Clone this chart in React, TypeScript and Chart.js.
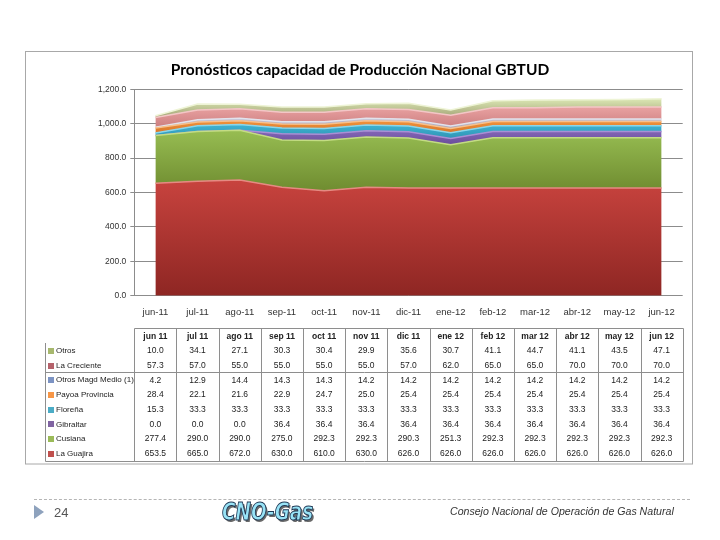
import React, { useEffect, useRef } from 'react';
import { Chart, registerables } from 'chart.js';

Chart.register(...registerables);

// ---------- data ----------
const TITLE = 'Pronósticos capacidad de Producción Nacional GBTUD';
const months = ['jun-11', 'jul-11', 'ago-11', 'sep-11', 'oct-11', 'nov-11', 'dic-11', 'ene-12', 'feb-12', 'mar-12', 'abr-12', 'may-12', 'jun-12'];
const tableMonths = ['jun 11', 'jul 11', 'ago 11', 'sep 11', 'oct 11', 'nov 11', 'dic 11', 'ene 12', 'feb 12', 'mar 12', 'abr 12', 'may 12', 'jun 12'];
const yTickValues = [0, 200, 400, 600, 800, 1000, 1200];

const seriesNames = ['La Guajira', 'Cusiana', 'Gibraltar', 'Floreña', 'Payoa Provincia', 'Otros Magd Medio (1)', 'La Creciente', 'Otros'];
const laGuajira = [653.5, 665.0, 672.0, 630.0, 610.0, 630.0, 626.0, 626.0, 626.0, 626.0, 626.0, 626.0, 626.0];
const cusiana = [277.4, 290.0, 290.0, 275.0, 292.3, 292.3, 290.3, 251.3, 292.3, 292.3, 292.3, 292.3, 292.3];
const gibraltar = [0.0, 0.0, 0.0, 36.4, 36.4, 36.4, 36.4, 36.4, 36.4, 36.4, 36.4, 36.4, 36.4];
const florena = [15.3, 33.3, 33.3, 33.3, 33.3, 33.3, 33.3, 33.3, 33.3, 33.3, 33.3, 33.3, 33.3];
const payoaProvincia = [28.4, 22.1, 21.6, 22.9, 24.7, 25.0, 25.4, 25.4, 25.4, 25.4, 25.4, 25.4, 25.4];
const otrosMagdMedio = [4.2, 12.9, 14.4, 14.3, 14.3, 14.2, 14.2, 14.2, 14.2, 14.2, 14.2, 14.2, 14.2];
const laCreciente = [57.3, 57.0, 55.0, 55.0, 55.0, 55.0, 57.0, 62.0, 65.0, 65.0, 70.0, 70.0, 70.0];
const otros = [10.0, 34.1, 27.1, 30.3, 30.4, 29.9, 35.6, 30.7, 41.1, 44.7, 41.1, 43.5, 47.1];
const seriesValues = [laGuajira, cusiana, gibraltar, florena, payoaProvincia, otrosMagdMedio, laCreciente, otros];

// ---------- styles ----------
const fillTop = ['#c8433e', '#97bd52', '#8467b8', '#3fb3d3', '#f0923c', '#c4c2d4', '#e9a2a2', '#dbe7b4'];
const fillBottom = ['#8e2623', '#6f8c30', '#6a4d9a', '#2e95b4', '#d8772a', '#a9a8bd', '#cc7f80', '#a4a577'];
const edgeColors = ['#e58a82', '#c3dc83', '#a98fd4', '#8bd6ea', '#f7c08c', '#e2e2ec', '#f3c6c6', '#eef4d6'];
const keyColors = ['#c0504d', '#9bbb59', '#8064a2', '#4bacc6', '#f79646', '#7c93c3', '#b5626b', '#a7b86e'];
const FONT = 'Liberation Sans';

const decorPlugin = {
  id: 'decor',
  beforeDraw(chart: any) {
    const ctx = chart.ctx;
    ctx.save();
    ctx.fillStyle = '#ffffff';
    ctx.fillRect(0, 0, chart.width, chart.height);
    ctx.strokeStyle = '#a8a8a8';
    ctx.lineWidth = 1;
    ctx.strokeRect(25.5, 51.5, 667, 412.5);
    ctx.restore();
  },
  afterDraw(chart: any) {
    const ctx = chart.ctx;
    const xs = chart.scales.x;
    ctx.save();
    // title
    ctx.font = 'bold 15.5px Lato';
    ctx.fillStyle = '#000';
    ctx.textAlign = 'center';
    ctx.textBaseline = 'middle';
    ctx.fillText(TITLE, 360, 70);

    // data table
    const n = months.length;
    const step = xs.getPixelForValue(1) - xs.getPixelForValue(0);
    const left = xs.getPixelForValue(0) - step / 2;
    const right = xs.getPixelForValue(n - 1) + step / 2;
    const top = 328.5;
    const headH = 14.5;
    const rowH = 14.7;
    const nRows = seriesNames.length;
    const bodyTop = top + headH;
    const bottom = bodyTop + rowH * nRows;
    const legLeft = 45.5;

    ctx.strokeStyle = '#8e8e8e';
    ctx.lineWidth = 1;
    ctx.beginPath();
    ctx.moveTo(Math.round(left) + 0.5, top);
    ctx.lineTo(Math.round(right) + 0.5, top);
    ctx.moveTo(legLeft, bodyTop);
    ctx.lineTo(legLeft, Math.round(bottom) + 0.5);
    ctx.lineTo(Math.round(right) + 0.5, Math.round(bottom) + 0.5);
    for (let i = 0; i <= n; i++) {
      const xx = Math.round(left + i * step) + 0.5;
      ctx.moveTo(xx, top);
      ctx.lineTo(xx, Math.round(bottom) + 0.5);
    }
    const sepY = Math.round(bodyTop + rowH * 2) + 0.5;
    ctx.moveTo(legLeft, sepY);
    ctx.lineTo(Math.round(right) + 0.5, sepY);
    ctx.stroke();

    // headers
    ctx.fillStyle = '#222';
    ctx.font = `bold 8.5px ${FONT}`;
    ctx.textAlign = 'center';
    for (let i = 0; i < n; i++) {
      ctx.fillText(tableMonths[i], xs.getPixelForValue(i), top + headH / 2 + 0.5);
    }
    // rows (top row = last series)
    for (let r = 0; r < nRows; r++) {
      const si = nRows - 1 - r;
      const cy = bodyTop + rowH * r + rowH / 2 + 0.5;
      ctx.fillStyle = keyColors[si];
      ctx.fillRect(48, Math.round(cy) - 3, 6, 6);
      ctx.fillStyle = '#222';
      ctx.textAlign = 'left';
      ctx.font = `8px ${FONT}`;
      ctx.fillText(seriesNames[si], 56, cy);
      ctx.textAlign = 'center';
      ctx.font = `8.5px ${FONT}`;
      for (let i = 0; i < n; i++) {
        ctx.fillText(seriesValues[si][i].toFixed(1), xs.getPixelForValue(i), cy);
      }
    }
    ctx.restore();
  },
};

function makeFill(i: number) {
  return (c: any) => {
    const chart = c.chart;
    const area = chart.chartArea;
    if (!area) return fillTop[i];
    const ys = chart.scales.y;
    const sumTo = months.map((_, j) => seriesValues.slice(0, i + 1).reduce((s, arr) => s + arr[j], 0));
    const sumBelow = months.map((_, j) => seriesValues.slice(0, i).reduce((s, arr) => s + arr[j], 0));
    const topVal = Math.max(...sumTo);
    const botVal = Math.min(...sumBelow);
    const g = chart.ctx.createLinearGradient(0, ys.getPixelForValue(topVal), 0, ys.getPixelForValue(botVal));
    g.addColorStop(0, fillTop[i]);
    g.addColorStop(1, fillBottom[i]);
    return g;
  };
}

export default function App() {
  const ref = useRef<HTMLCanvasElement | null>(null);

  useEffect(() => {
    if (!ref.current) return;
    const chart = new Chart(ref.current, {
      type: 'line',
      data: {
        labels: months,
        datasets: seriesNames.map((name, i) => ({
          label: name,
          data: seriesValues[i],
          fill: i === 0 ? 'origin' : '-1',
          backgroundColor: makeFill(i),
          borderColor: edgeColors[i],
          borderWidth: 1.5,
          pointRadius: 0,
          pointHoverRadius: 0,
          tension: 0,
        })),
      },
      options: {
        animation: false,
        responsive: false,
        events: [],
        layout: { padding: { left: 84.3, right: 37.3, top: 89.3, bottom: 0 } },
        plugins: {
          legend: { display: false },
          title: { display: false },
          tooltip: { enabled: false },
        },
        scales: {
          x: {
            offset: true,
            grid: { display: false, drawTicks: false, tickLength: 0 },
            border: { display: false },
            ticks: { padding: 11, color: '#333', font: { family: FONT, size: 9.5 }, maxRotation: 0, autoSkip: false },
            afterFit: (s: any) => { s.height = 540 - 295.7; },
          },
          y: {
            stacked: true,
            min: 0,
            max: 1200,
            afterBuildTicks: (s: any) => { s.ticks = yTickValues.map((v) => ({ value: v })); },
            grid: { color: '#8c8c8c', tickLength: 4, drawTicks: true },
            border: { display: true, color: '#8c8c8c' },
            ticks: {
              padding: 4,
              color: '#333',
              font: { family: FONT, size: 8.5 },
              callback: (v: any) => Number(v).toLocaleString('en-US', { minimumFractionDigits: 1, maximumFractionDigits: 1 }),
            },
            afterFit: (s: any) => { s.width = 50; },
          },
        },
      },
      plugins: [decorPlugin],
    } as any);
    return () => chart.destroy();
  }, []);

  return (
    <div style={{ position: 'fixed', left: 0, top: 0, width: 720, height: 540, background: '#fff', overflow: 'hidden' }}>
      <canvas ref={ref} width={720} height={540} style={{ position: 'absolute', left: 0, top: 0, width: 720, height: 540 }} />
      <div style={{ position: 'absolute', left: 34, top: 499, width: 656, borderTop: '1px dashed #b5b5b5' }} />
      <div style={{ position: 'absolute', left: 34, top: 505, width: 0, height: 0, borderTop: '7px solid transparent', borderBottom: '7px solid transparent', borderLeft: '10px solid #8ea2bd' }} />
      <div style={{ position: 'absolute', left: 54, top: 504, fontFamily: FONT, fontSize: 13, color: '#555', lineHeight: '18px' }}>24</div>
      <div style={{ position: 'absolute', left: 222, top: 497, fontFamily: '"DejaVu Sans Condensed", sans-serif', fontWeight: 'bold', fontStyle: 'italic', fontSize: 25, lineHeight: '30px', color: '#98e3f6', WebkitTextStroke: '1px #1d3552', textShadow: '2px 2px 0 #6a6a6a', transform: 'scaleX(0.82)', transformOrigin: 'left center', whiteSpace: 'nowrap' }}>CNO-Gas</div>
      <div style={{ position: 'absolute', left: 450, top: 504, fontFamily: FONT, fontStyle: 'italic', fontSize: 10.6, color: '#333', lineHeight: '14px', whiteSpace: 'nowrap' }}>Consejo Nacional de Operación de Gas Natural</div>
    </div>
  );
}
